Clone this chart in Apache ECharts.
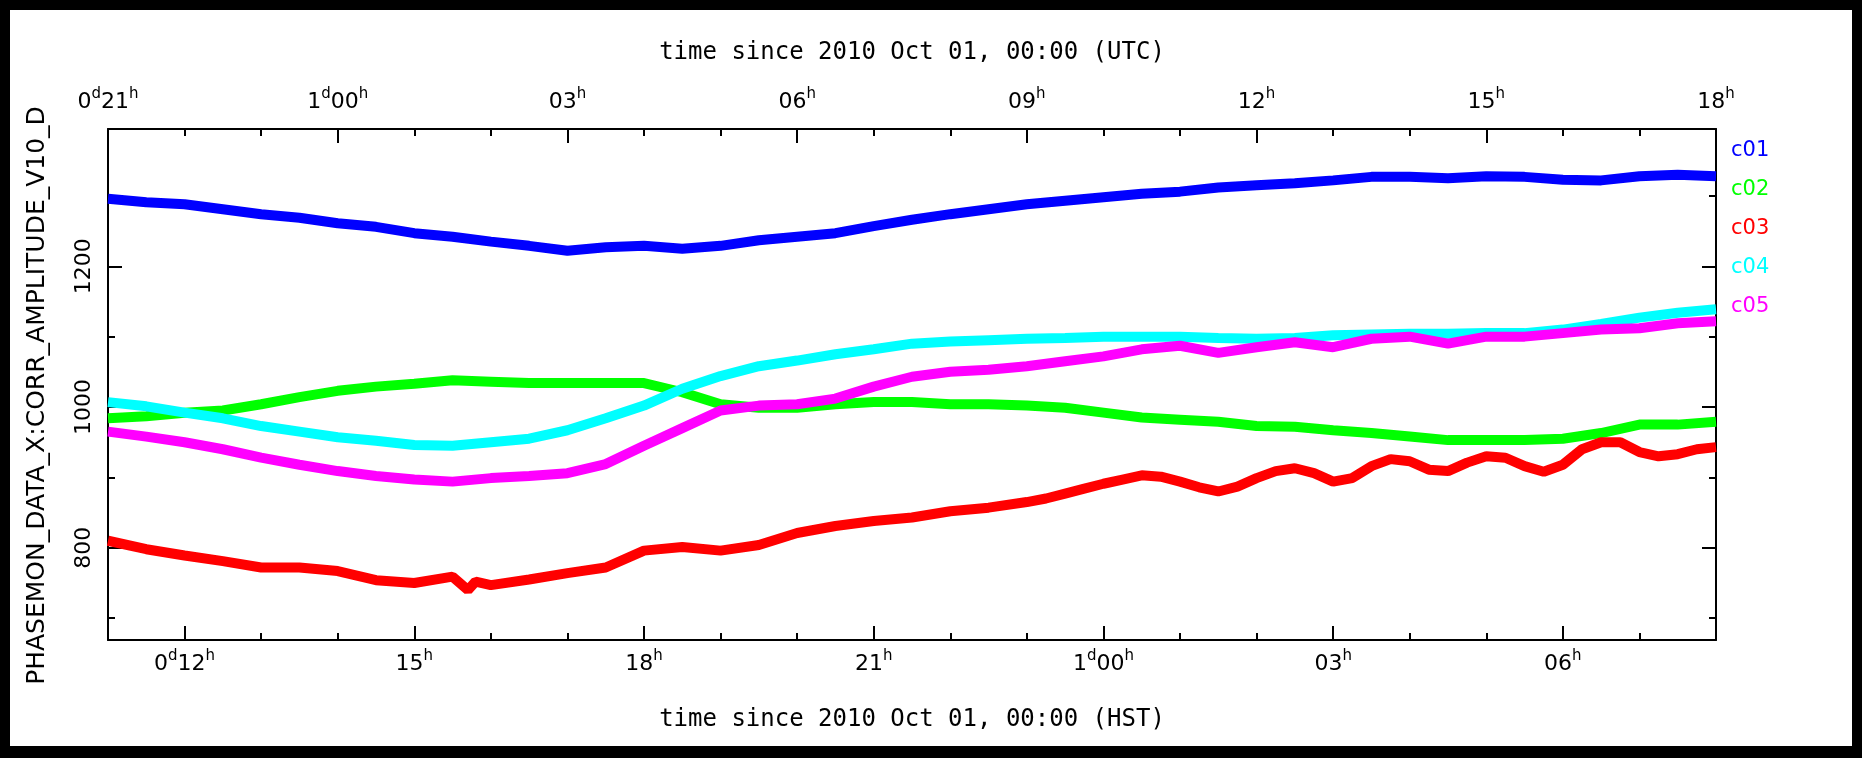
<!DOCTYPE html>
<html><head><meta charset="utf-8">
<script src="https://cdn.jsdelivr.net/npm/echarts@6/dist/echarts.min.js"></script>
<style>
html,body{margin:0;padding:0;background:#000;width:1862px;height:758px;overflow:hidden;}
#frame{position:absolute;left:10px;top:10px;width:1842px;height:736px;background:#fff;}
#chart{width:1842px;height:736px;}
</style></head><body><div id="frame"><div id="chart"></div></div>
<script>
// hours since 2010 Oct 01, 00:00 HST
const hours = [11,11.5,12,12.5,13,13.5,14,14.5,15,15.5,16,16.5,17,17.5,18,18.5,19,19.5,20,20.5,21,21.5,22,22.5,23,23.5,24,24.5,25,25.5,26,26.5,27,27.5,28,28.5,29,29.5,30,30.5,31,31.5,32];
const c01 = [1296,1291,1288,1281,1274,1269,1261,1256,1247,1242,1235,1229,1222,1227,1229,1225,1229,1237,1242,1247,1257,1266,1274,1281,1288,1293,1298,1303,1306,1312,1315,1318,1322,1327,1327,1325,1328,1327,1323,1322,1328,1330,1328];
const c02 = [984,987,992,995,1004,1014,1023,1029,1033,1038,1036,1034,1034,1034,1034,1021,1004,999,999,1004,1007,1007,1004,1004,1002,999,992,985,982,979,973,972,967,963,958,953,953,953,955,963,975,975,979];
const hoursC03 = [11,11.5,12,12.5,13,13.5,14,14.5,15,15.5,15.7,15.8,16,16.5,17,17.5,18,18.5,19,19.5,20,20.5,21,21.5,22,22.5,23,23.25,23.5,23.75,24,24.25,24.5,24.75,25,25.25,25.5,25.75,26,26.25,26.5,26.75,27,27.25,27.5,27.75,28,28.25,28.5,28.75,29,29.25,29.5,29.75,30,30.25,30.5,30.75,31,31.25,31.5,31.75,32];
const c03 = [810,798,789,781,772,772,767,754,750,759,740,752,747,755,764,772,796,801,796,804,821,831,838,843,852,857,865,870,877,884,891,897,903,901,894,886,880,887,899,909,913,906,894,899,916,926,923,911,909,921,930,928,916,908,918,940,950,950,936,930,933,940,943];
const c04 = [1007,1001,992,984,973,965,957,952,946,945,950,955,967,984,1002,1026,1044,1058,1066,1075,1082,1090,1093,1095,1097,1098,1100,1100,1100,1098,1097,1098,1102,1103,1104,1104,1105,1105,1110,1118,1127,1134,1139];
const c05 = [965,958,950,940,928,918,909,902,897,894,899,902,906,919,945,970,995,1002,1004,1012,1029,1043,1050,1053,1058,1065,1072,1082,1087,1077,1085,1092,1085,1097,1100,1090,1100,1100,1105,1110,1112,1119,1122];

const seriesNames = ['c01','c02','c03','c04','c05'];
const seriesColors = ['#0000ff','#00ff00','#ff0000','#00ffff','#ff00ff'];

// axis tick positions (hours HST) and labels
const hstHours = ['11','12','13','14','15','16','17','18','19','20','21','22','23','24','25','26','27','28','29','30','31','32'];
const hstTickLabels = ['', '0d12h','','','15h','','','18h','','','21h','','','1d00h','','','03h','','','06h','',''];
const utcTickLabels = ['0d21h','','','1d00h','','','03h','','','06h','','','09h','','','12h','','','15h','','','18h'];
const yMinorTicks = [700,900,1100,1300];
const yMajorTicks = [800,1000,1200];
const yRange = [669,1395];
const xRange = [11,32];

const FONT = 'DejaVu Sans';
const MONO = 'DejaVu Sans Mono';
function sup(s){ return s.replace(/(\d+)([dh])/g, '{n|$1}{s|$2}'); }
const rich = {
  n:{fontFamily:FONT,fontSize:22,lineHeight:30,color:'#000'},
  s:{fontFamily:FONT,fontSize:15,lineHeight:15,verticalAlign:'top',color:'#000'}
};
const lineStyle = {color:'#000',width:2};

const xs = [hours,hours,hoursC03,hours,hours];
const data = [c01,c02,c03,c04,c05];
const chart = echarts.init(document.getElementById('chart'));
chart.setOption({
  animation:false,
  backgroundColor:'#fff',
  grid:{left:98,top:119,width:1608,height:511,containLabel:false},
  legend:{
    orient:'vertical',left:1716,top:130,padding:0,icon:'none',itemWidth:0,itemHeight:20,itemGap:18,
    selectedMode:false,
    data:seriesNames.map((n,i)=>({name:n,textStyle:{color:seriesColors[i],fontFamily:FONT,fontSize:21,lineHeight:20}}))
  },
  xAxis:[
    {type:'value',position:'bottom',min:xRange[0],max:xRange[1],interval:1,
     axisLine:{show:true,lineStyle},axisTick:{show:true,inside:true,length:7,lineStyle},
     axisLabel:{show:false},splitLine:{show:false}},
    {type:'category',position:'bottom',data:hstHours,boundaryGap:false,
     axisLine:{show:false},
     axisTick:{show:true,inside:true,length:14,lineStyle,interval:(i)=>hstTickLabels[i]!==''},
     axisLabel:{show:true,margin:9,interval:(i)=>hstTickLabels[i]!=='',formatter:(v,i)=>sup(hstTickLabels[i]),rich},
     splitLine:{show:false},
     name:'time since 2010 Oct 01, 00:00 (HST)',nameLocation:'middle',nameGap:68,
     nameTextStyle:{fontFamily:MONO,fontSize:24,color:'#000'}},
    {type:'value',position:'top',min:xRange[0],max:xRange[1],interval:1,
     axisLine:{show:true,lineStyle},axisTick:{show:true,inside:true,length:7,lineStyle},
     axisLabel:{show:false},splitLine:{show:false}},
    {type:'category',position:'top',data:hstHours,boundaryGap:false,
     axisLine:{show:false},
     axisTick:{show:true,inside:true,length:14,lineStyle,interval:(i)=>utcTickLabels[i]!==''},
     axisLabel:{show:true,margin:12,interval:(i)=>utcTickLabels[i]!=='',formatter:(v,i)=>sup(utcTickLabels[i]),rich},
     splitLine:{show:false},
     name:'time since 2010 Oct 01, 00:00 (UTC)',nameLocation:'middle',nameGap:64,
     nameTextStyle:{fontFamily:MONO,fontSize:24,color:'#000'}}
  ],
  yAxis:[
    {type:'value',position:'left',min:yRange[0],max:yRange[1],
     axisLine:{show:true,lineStyle},
     axisTick:{show:true,inside:true,length:7,lineStyle,customValues:yMinorTicks},
     axisLabel:{show:false},splitLine:{show:false}},
    {type:'value',position:'left',min:yRange[0],max:yRange[1],
     axisLine:{show:false},
     axisTick:{show:true,inside:true,length:14,lineStyle,customValues:yMajorTicks},
     axisLabel:{show:true,rotate:90,margin:13,customValues:yMajorTicks,formatter:(v)=>String(v),fontFamily:FONT,fontSize:22,color:'#000'},
     splitLine:{show:false},
     name:'PHASEMON_DATA_X:CORR_AMPLITUDE_V10_D',nameLocation:'middle',nameGap:58,
     nameTextStyle:{fontFamily:FONT,fontSize:25,color:'#000',padding:[0,22,0,0]}},
    {type:'value',position:'right',min:yRange[0],max:yRange[1],
     axisLine:{show:true,lineStyle},
     axisTick:{show:true,inside:true,length:7,lineStyle,customValues:yMinorTicks},
     axisLabel:{show:false},splitLine:{show:false}},
    {type:'value',position:'right',min:yRange[0],max:yRange[1],
     axisLine:{show:false},
     axisTick:{show:true,inside:true,length:14,lineStyle,customValues:yMajorTicks},
     axisLabel:{show:false},splitLine:{show:false}}
  ],
  series:seriesNames.map((n,i)=>({
    name:n,type:'line',xAxisIndex:0,yAxisIndex:0,showSymbol:false,symbol:'none',
    data:xs[i].map((h,k)=>[h,data[i][k]]),
    lineStyle:{color:seriesColors[i],width:10},itemStyle:{color:seriesColors[i]},
    z:2+i
  }))
});
</script></body></html>
